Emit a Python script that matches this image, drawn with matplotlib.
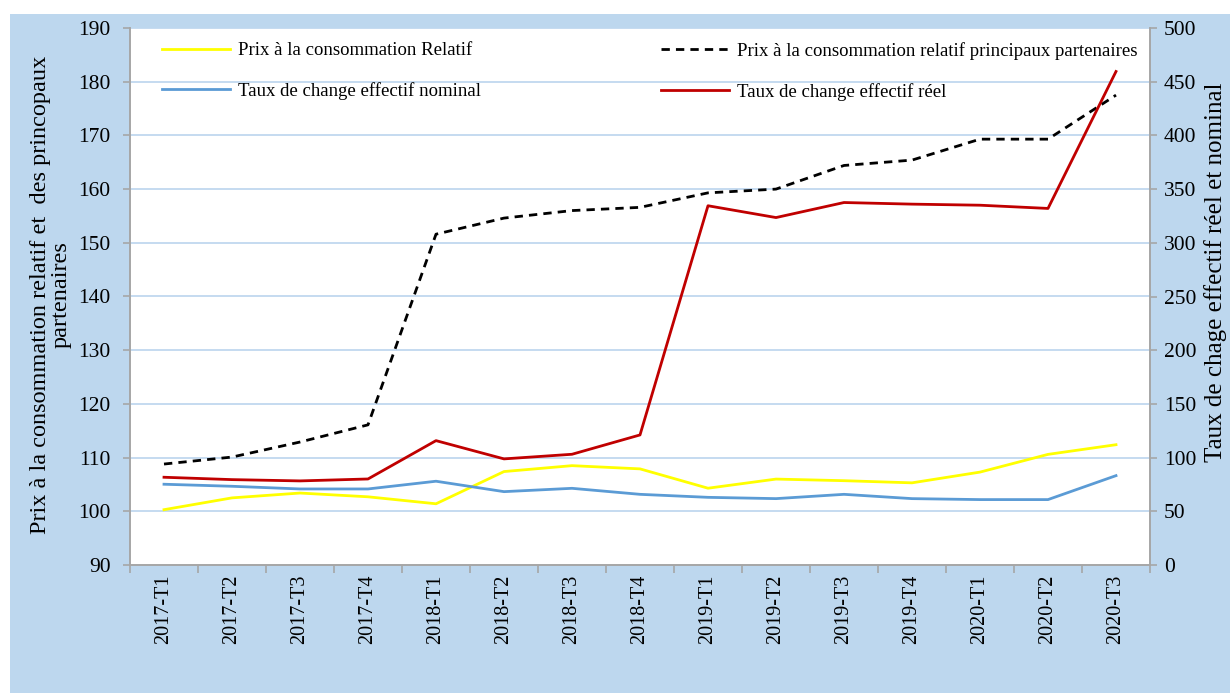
import matplotlib
matplotlib.use("Agg")
import matplotlib.pyplot as plt
from matplotlib.patches import Rectangle
import numpy as np

categories = ["2017-T1", "2017-T2", "2017-T3", "2017-T4",
              "2018-T1", "2018-T2", "2018-T3", "2018-T4",
              "2019-T1", "2019-T2", "2019-T3", "2019-T4",
              "2020-T1", "2020-T2", "2020-T3"]

# left axis series
prix_relatif = [100.3, 102.5, 103.4, 102.7, 101.4, 107.4, 108.5, 107.9,
                104.3, 106.0, 105.7, 105.3, 107.3, 110.6, 112.4]
prix_partenaires = [108.8, 110.1, 112.9, 116.1, 151.6, 154.6, 156.0, 156.6,
                    159.3, 160.0, 164.4, 165.4, 169.3, 169.3, 177.5]
# right axis series
tce_nominal = [75.2, 73.3, 70.8, 70.8, 78.0, 68.3, 71.4, 65.8,
               63.0, 61.8, 65.8, 61.8, 60.9, 60.9, 83.2]
tce_reel = [81.7, 79.5, 78.3, 80.1, 115.8, 98.8, 103.1, 121.1,
            334.5, 323.5, 337.5, 336.0, 335.0, 332.0, 459.5]

left_ticks = list(range(90, 191, 10))
right_ticks = list(range(0, 501, 50))

label_left = "Prix à la consommation relatif et  des princopaux\npartenaires"
label_right = "Taux de chage effectif réel et nominal"
legend_labels = ["Prix à la consommation Relatif",
                 "Prix à la consommation relatif principaux partenaires",
                 "Taux de change effectif nominal",
                 "Taux de change effectif réel"]

plt.rcParams['font.family'] = ['Liberation Serif', 'DejaVu Serif']

W, H = 1230, 693
fig = plt.figure(figsize=(W / 100, H / 100), dpi=100, facecolor="white")
bg = "#BDD7EE"
fig.patches.append(Rectangle((10 / W, 0), 1 - 10 / W, 1 - 14 / H,
                             transform=fig.transFigure, facecolor=bg,
                             edgecolor="none", zorder=-10))

ax = fig.add_axes([130 / W, (H - 565) / H, 1020 / W, 537 / H])
ax.set_facecolor("white")
ax2 = ax.twinx()

x = np.arange(len(categories))
grid_c = "#C5DAF0"
spine_c = "#A6A6A6"

lw = 2.0
l1, = ax.plot(x, prix_relatif, color="#FFFF00", lw=lw, zorder=3)
l2, = ax.plot(x, prix_partenaires, color="black", lw=lw,
              linestyle=(0, (3.0, 2.2)), zorder=3)
l3, = ax2.plot(x, tce_nominal, color="#5B9BD5", lw=lw, zorder=3)
l4, = ax2.plot(x, tce_reel, color="#C00000", lw=lw, zorder=3)

ax.set_xlim(-0.5, len(categories) - 0.5)
ax.set_ylim(90, 190)
ax2.set_ylim(0, 500)
ax.set_yticks(left_ticks)
ax2.set_yticks(right_ticks)
ax.set_xticks(x)
ax.set_xticklabels(categories, rotation=90, fontsize=14.5)
ax.set_xticks(np.arange(-0.5, len(categories), 1.0), minor=True)
ax.tick_params(axis="x", which="major", length=0, pad=7)
ax.tick_params(axis="x", which="minor", length=6, color=spine_c, width=1.2)
ax.tick_params(axis="y", labelsize=15.5, length=5, color=spine_c, width=1.2, pad=9)
ax2.tick_params(axis="y", labelsize=15.5, length=5, color=spine_c, width=1.2, pad=5)

for v in left_ticks[1:]:
    ax.axhline(v, color=grid_c, lw=1.4, zorder=1)

for a in (ax, ax2):
    a.spines["top"].set_visible(False)
    for s in ("left", "right", "bottom"):
        a.spines[s].set_color(spine_c)
        a.spines[s].set_linewidth(1.2)

fig.text(51 / W, 1 - 295 / H, label_left, rotation=90, fontsize=17.5,
         ha="center", va="center", multialignment="center", linespacing=0.95)
fig.text(1216 / W, 1 - 272 / H, label_right, rotation=90, fontsize=18,
         ha="center", va="center")

leg_kw = dict(loc="upper left", frameon=False, fontsize=13.5, handlelength=3.63,
              handletextpad=0.43, labelspacing=1.22, borderaxespad=0)
leg1 = ax2.legend([l1, l3], [legend_labels[0], legend_labels[2]],
                  bbox_to_anchor=(0.024, 0.988), **leg_kw)
ax2.add_artist(leg1)
leg2 = ax2.legend([l2, l4], [legend_labels[1], legend_labels[3]],
                  bbox_to_anchor=(0.513, 0.988), **leg_kw)

fig.savefig("out.png", dpi=100, facecolor=fig.get_facecolor())
